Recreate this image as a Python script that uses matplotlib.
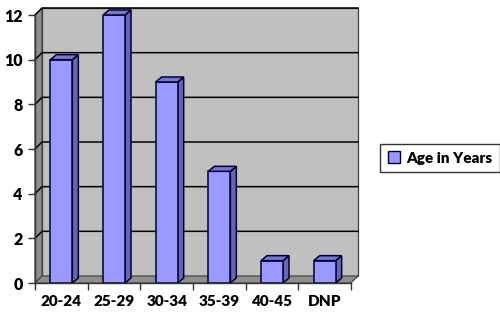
import matplotlib.pyplot as plt
from matplotlib.patches import Polygon, Patch

categories = ["20-24", "25-29", "30-34", "35-39", "40-45", "DNP"]
counts = [10, 12, 9, 5, 1, 1]
series_name = "Age in Years"
y_ticks = [0, 2, 4, 6, 8, 10, 12]

plt.rcParams['font.family'] = ['Lato', 'DejaVu Sans']

fig = plt.figure(figsize=(5, 3.14), dpi=100)
ax = fig.add_axes([35 / 500, 31 / 314, 316 / 500, 268 / 314])

n = len(categories)
xmin, xmax = -0.5, n - 0.5
ymax = 12
ax.set_xlim(xmin, xmax)
ax.set_ylim(0, ymax)

# pixel -> data scale
sx = 316 / n
sy = 268 / ymax
wdx, wdy = 7 / sx, 7 / sy      # wall depth
bdx, bdy = 6 / sx, 5 / sy      # bar depth

# walls and floor
back = Polygon([(xmin + wdx, wdy), (xmax + wdx, wdy), (xmax + wdx, ymax + wdy), (xmin + wdx, ymax + wdy)],
               closed=True, fc='#c0c0c0', ec='#404040', lw=0.9, zorder=0, clip_on=False)
side = Polygon([(xmin, 0), (xmin + wdx, wdy), (xmin + wdx, ymax + wdy), (xmin, ymax)],
               closed=True, fc='#8f8f8f', ec='#404040', lw=0.8, zorder=0, clip_on=False)
floor = Polygon([(xmin, 0), (xmax, 0), (xmax + wdx, wdy), (xmin + wdx, wdy)],
                closed=True, fc='#8f8f8f', ec='#404040', lw=0.8, zorder=0, clip_on=False)
for p in (back, side, floor):
    ax.add_patch(p)

for t in y_ticks[1:]:
    ax.plot([xmin, xmin + wdx, xmax + wdx], [t, t + wdy, t + wdy], color='black', lw=1.1,
            zorder=1, clip_on=False)

# bars
w = 22 / sx
edge = '#000033'
bars = ax.bar(range(n), counts, width=w, color='#9999ff', edgecolor=edge, lw=1.1, zorder=3)
for i, v in enumerate(counts):
    x1 = i + w / 2
    x0 = i - w / 2
    ax.add_patch(Polygon([(x1, 0), (x1 + bdx, bdy), (x1 + bdx, v + bdy), (x1, v)], closed=True,
                         fc='#6666b3', ec=edge, lw=1.1, zorder=2, clip_on=False))
    ax.add_patch(Polygon([(x0, v), (x1, v), (x1 + bdx, v + bdy), (x0 + bdx, v + bdy)], closed=True,
                         fc='#7777cc', ec=edge, lw=1.1, zorder=4, clip_on=False))

# axes
for s in ('top', 'right'):
    ax.spines[s].set_visible(False)
for s in ('left', 'bottom'):
    ax.spines[s].set_color('#333333')
    ax.spines[s].set_linewidth(1)
    ax.spines[s].set_zorder(5)

ax.set_yticks(y_ticks)
ax.set_yticklabels([str(t) for t in y_ticks], fontsize=11.5, fontweight='heavy')
ax.tick_params(axis='y', length=5, width=1, color='#333333', pad=4)
ax.set_xticks(range(n))
ax.set_xticklabels(categories, fontsize=11, fontweight='heavy')
ax.set_xticks([xmin + k for k in range(n + 1)], minor=True)
ax.tick_params(axis='x', which='major', length=0, pad=9)
ax.tick_params(axis='x', which='minor', length=5, width=1, color='#333333')

fig.legend(handles=[Patch(fc='#9999ff', ec=edge, lw=1, label=series_name)],
           loc='center', bbox_to_anchor=(440 / 500, 1 - 158 / 314), frameon=True,
           fancybox=False, edgecolor='black', prop={'weight': 'heavy', 'size': 11},
           handlelength=0.8, handleheight=0.8, handletextpad=0.4, borderpad=0.5)

fig.savefig('out.png', dpi=100)
